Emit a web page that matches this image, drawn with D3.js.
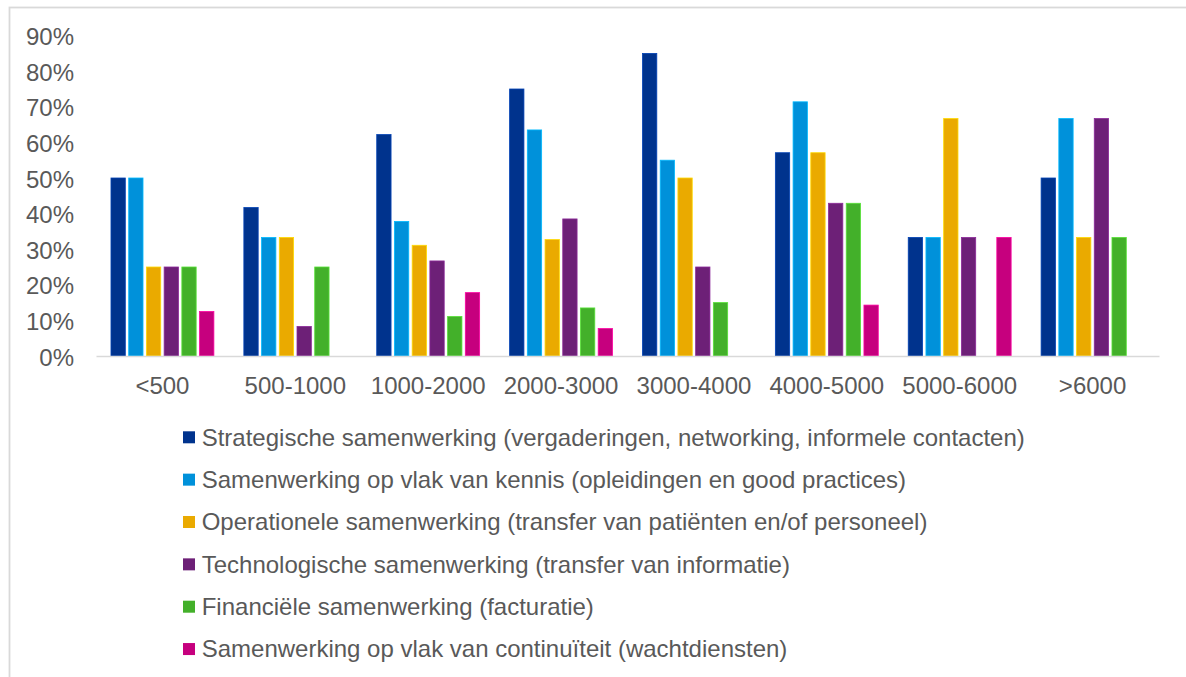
<!DOCTYPE html>
<html>
<head>
<meta charset="utf-8">
<script src="https://cdn.jsdelivr.net/npm/d3@7"></script>
<style>
  html, body { margin: 0; padding: 0; background: #ffffff; }
  svg { display: block; }
  text { font-family: "Liberation Sans", Arial, sans-serif; }
</style>
</head>
<body>
<svg id="chart" width="1186" height="677"></svg>
<script>
// ---- data ----
const categories = ["<500", "500-1000", "1000-2000", "2000-3000", "3000-4000", "4000-5000", "5000-6000", ">6000"];
const seriesNames = [
  "Strategische samenwerking (vergaderingen, networking, informele contacten)",
  "Samenwerking op vlak van kennis (opleidingen en good practices)",
  "Operationele samenwerking (transfer van patiënten en/of personeel)",
  "Technologische samenwerking (transfer van informatie)",
  "Financiële samenwerking (facturatie)",
  "Samenwerking op vlak van continuïteit (wachtdiensten)"
];
const strategisch   = [50, 41.7, 62.2, 75.0, 85, 57.1, 33.3, 50.0];
const kennis        = [50, 33.3, 37.8, 63.5, 55, 71.4, 33.3, 66.7];
const operationeel  = [25, 33.3, 31.1, 32.7, 50, 57.1, 66.7, 33.3];
const technologisch = [25,  8.3, 26.7, 38.5, 25, 42.9, 33.3, 66.7];
const financieel    = [25, 25.0, 11.1, 13.5, 15, 42.9,  0.0, 33.3];
const continuiteit  = [12.5, 0.0, 17.8, 7.7,  0, 14.3, 33.3,  0.0];
const yTicks = [0, 10, 20, 30, 40, 50, 60, 70, 80, 90];
const colors = ["#00338D", "#0091DA", "#EAAA00", "#6D2077", "#43B02A", "#C6007E"];

const seriesValues = [strategisch, kennis, operationeel, technologisch, financieel, continuiteit];

// ---- layout ----
const svg = d3.select("#chart");
const textColor = "#595959";
const fontSize = 24;

// outer frame
svg.append("rect")
  .attr("x", 9.5).attr("y", 7.5)
  .attr("width", 1200).attr("height", 700)
  .attr("fill", "none")
  .attr("stroke", "#d9d9d9")
  .attr("stroke-width", 1.8);

const plotLeft = 96, plotRight = 1159, plotBottom = 356, plotTop = 35.6;

const x = d3.scaleBand().domain(categories).range([plotLeft, plotRight])
  .paddingInner(0.2).paddingOuter(0.1);
const xs = d3.scaleBand().domain(d3.range(seriesNames.length)).range([0, x.bandwidth()]);
const y = d3.scaleLinear().domain([0, 90]).range([plotBottom, plotTop]);

// bars
const groups = svg.append("g").selectAll("g")
  .data(categories)
  .join("g")
  .attr("transform", d => `translate(${x(d)},0)`);

groups.selectAll("rect")
  .data((c, ci) => seriesValues.map((vals, si) => ({ si, v: vals[ci] })))
  .join("rect")
  .filter(d => d.v > 0)
  .attr("x", d => xs(d.si) + 1.7)
  .attr("width", xs.bandwidth() - 3.4)
  .attr("y", d => y(d.v))
  .attr("height", d => y(0) - y(d.v))
  .attr("fill", d => colors[d.si])
  .attr("stroke", d => d3.color(colors[d.si]).brighter(0.7))
  .attr("stroke-width", 0.8);

// y axis
const yAxis = svg.append("g")
  .attr("transform", `translate(${plotLeft},0)`)
  .call(d3.axisLeft(y).tickValues(yTicks).tickSize(0).tickPadding(22).tickFormat(d => d + "%"));
yAxis.select(".domain").remove();
yAxis.selectAll("text")
  .attr("fill", textColor)
  .attr("dy", "0.38em")
  .style("font-size", fontSize + "px")
  .style("font-family", "'Liberation Sans', Arial, sans-serif");

// x axis
const xAxis = svg.append("g")
  .attr("transform", `translate(0,${plotBottom})`)
  .call(d3.axisBottom(x).tickSize(0).tickPadding(20.5));
xAxis.select(".domain")
  .attr("stroke", "#d9d9d9")
  .attr("stroke-width", 1.6);
xAxis.selectAll("text")
  .attr("fill", textColor)
  .style("font-size", fontSize + "px")
  .style("font-family", "'Liberation Sans', Arial, sans-serif");

// legend
const legendX = 183, legendY0 = 437.3, legendStep = 42.35;
const legend = svg.append("g").selectAll("g")
  .data(seriesNames)
  .join("g")
  .attr("transform", (d, i) => `translate(${legendX},${legendY0 + i * legendStep})`);
legend.append("rect")
  .attr("x", 0).attr("y", -6).attr("width", 12).attr("height", 12)
  .attr("fill", (d, i) => colors[i]);
legend.append("text")
  .attr("x", 18.7).attr("y", 0).attr("dy", "0.35em")
  .attr("fill", textColor)
  .style("font-size", fontSize + "px")
  .text(d => d);
</script>
</body>
</html>
